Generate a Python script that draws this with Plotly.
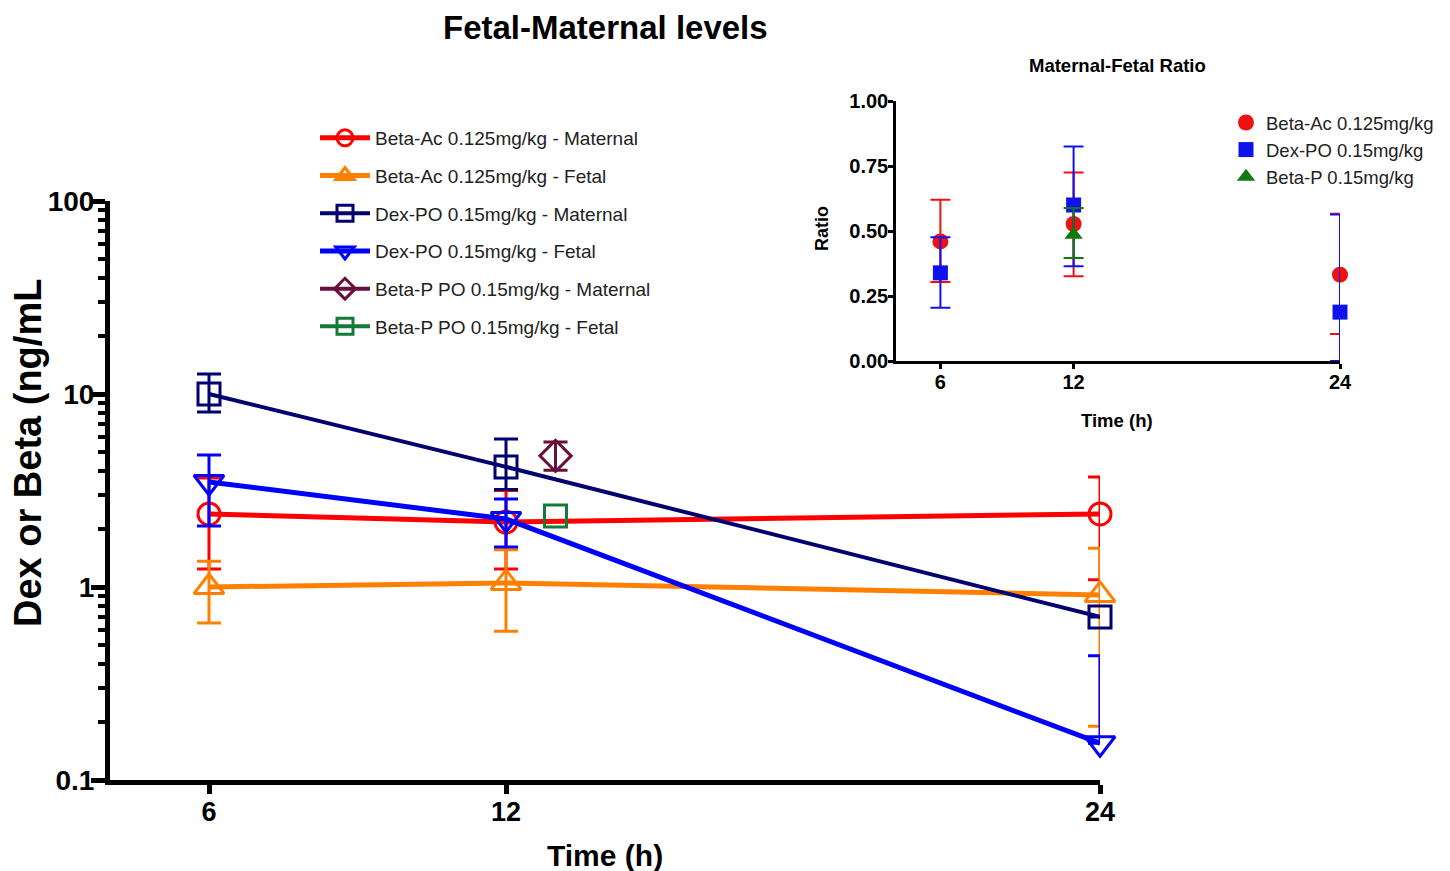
import plotly.graph_objects as go

# ---------------- Main chart data ----------------
time_h = [6, 12, 24]
beta_p_time = [13]

beta_ac_mat = [2.39, 2.17, 2.39]
beta_ac_mat_hi = [3.67, 3.16, 3.72]
beta_ac_mat_lo = [1.24, 1.24, 1.09]

beta_ac_fet = [1.00, 1.05, 0.91]
beta_ac_fet_hi = [1.36, 1.56, 1.59]
beta_ac_fet_lo = [0.65, 0.59, 0.19]

dex_mat = [10.0, 4.19, 0.70]
dex_mat_hi = [12.7, 5.85, 0.70]
dex_mat_lo = [8.07, 3.20, 0.70]

dex_fet = [3.50, 2.25, 0.155]
dex_fet_hi = [4.83, 2.86, 0.44]
dex_fet_lo = [2.07, 1.61, 0.155]

betap_mat = [4.78]
betap_mat_hi = [5.64]
betap_mat_lo = [4.03]

betap_fet = [2.33]

# ---------------- Inset data ----------------
ratio_time = [6, 12, 24]
ratio_beta_ac = [0.46, 0.527, 0.332]
ratio_beta_ac_hi = [0.62, 0.725, 0.566]
ratio_beta_ac_lo = [0.304, 0.326, 0.104]
ratio_dex = [0.339, 0.60, 0.188]
ratio_dex_hi = [0.476, 0.825, 0.563]
ratio_dex_lo = [0.205, 0.364, 0.0]
ratio_betap_time = [12]
ratio_betap = [0.486]
ratio_betap_hi = [0.588]
ratio_betap_lo = [0.396]

FONT = "Arial, Liberation Sans, sans-serif"

# page offset (body margin) compensation
OFF = 8
W = 1450 - OFF
H = 871 - OFF

def px(p):
    return (p - OFF) / W

def py(p):
    return 1 - (p - OFF) / H

def err(vals, hi, lo, color, thick=3, width=12):
    return dict(type="data", symmetric=False,
                array=[h - v for h, v in zip(hi, vals)],
                arrayminus=[v - l for v, l in zip(vals, lo)],
                color=color, thickness=thick, width=width)

fig = go.Figure()

main_series = [
    ("Beta-Ac 0.125mg/kg - Maternal", time_h, beta_ac_mat, beta_ac_mat_hi, beta_ac_mat_lo, "#ff0000", "circle-open", 22, 5),
    ("Beta-Ac 0.125mg/kg - Fetal", time_h, beta_ac_fet, beta_ac_fet_hi, beta_ac_fet_lo, "#ff8000", "triangle-up-open", 26, 5),
    ("Dex-PO 0.15mg/kg - Maternal", time_h, dex_mat, dex_mat_hi, dex_mat_lo, "#000070", "square-open", 22, 4),
    ("Dex-PO 0.15mg/kg - Fetal", time_h, dex_fet, dex_fet_hi, dex_fet_lo, "#0000ff", "triangle-down-open", 26, 5),
    ("Beta-P PO 0.15mg/kg - Maternal", beta_p_time, betap_mat, betap_mat_hi, betap_mat_lo, "#6a0f3c", "diamond-open", 24, 4),
]
for i, (name, xs, ys, hi, lo, col, sym, sz, lw) in enumerate(main_series):
    fig.add_trace(go.Scatter(
        x=xs, y=ys, name=name, mode="lines+markers",
        line=dict(color=col, width=lw),
        marker=dict(symbol=sym, size=sz, color=col, line=dict(width=3, color=col)),
        error_y=err(ys, hi, lo, col),
        cliponaxis=False, legend="legend", legendgroup="g%d" % i,
        xaxis="x", yaxis="y"))

fig.add_trace(go.Scatter(
    x=beta_p_time, y=betap_fet, name="Beta-P PO 0.15mg/kg - Fetal", mode="lines+markers",
    line=dict(color="#137a38", width=4),
    marker=dict(symbol="square-open", size=22, color="#137a38", line=dict(width=3, color="#137a38")),
    cliponaxis=False, legend="legend", legendgroup="g5",
    xaxis="x", yaxis="y"))

# Inset traces
inset_series = [
    ("Beta-Ac 0.125mg/kg", ratio_time, ratio_beta_ac, ratio_beta_ac_hi, ratio_beta_ac_lo, "#ee1111", "circle", 16),
    ("Dex-PO 0.15mg/kg", ratio_time, ratio_dex, ratio_dex_hi, ratio_dex_lo, "#1111ee", "square", 15),
    ("Beta-P 0.15mg/kg", ratio_betap_time, ratio_betap, ratio_betap_hi, ratio_betap_lo, "#107a10", "triangle-up", 16),
]
for name, xs, ys, hi, lo, col, sym, sz in inset_series:
    fig.add_trace(go.Scatter(
        x=xs, y=ys, name=name, mode="markers",
        marker=dict(symbol=sym, size=sz, color=col),
        error_y=err(ys, hi, lo, col, thick=2, width=10),
        cliponaxis=False, legend="legend2",
        xaxis="x2", yaxis="y2"))

fig.update_layout(
    width=W, height=H,
    margin=dict(l=0, r=0, t=0, b=0, autoexpand=False),
    paper_bgcolor="white", plot_bgcolor="rgba(0,0,0,0)",
    font=dict(family=FONT, color="black"),
    xaxis=dict(domain=[px(110), px(1100)], range=[4, 24], anchor="y",
               tickvals=time_h, ticks="outside", ticklen=9, tickwidth=5, tickcolor="black",
               ticklabelstandoff=-5,
               showline=True, linewidth=5, linecolor="black", showgrid=False, zeroline=False,
               tickfont=dict(size=27, weight="bold", family=FONT)),
    yaxis=dict(domain=[py(780), py(201)], type="log", range=[-1, 2], anchor="x",
               tickvals=[0.1, 1, 10, 100], ticktext=["0.1", "1", "10", "100"],
               ticks="outside", ticklen=14, tickwidth=5, tickcolor="black",
               ticklabelstandoff=-9,
               minor=dict(ticks="outside", ticklen=7, tickwidth=4, tickcolor="black", dtick="D1"),
               showline=True, linewidth=5, linecolor="black", showgrid=False, zeroline=False,
               tickfont=dict(size=28, weight="bold", family=FONT)),
    xaxis2=dict(domain=[px(896), px(1340)], range=[4, 24], anchor="y2",
                tickvals=ratio_time, ticks="outside", ticklen=5, tickwidth=2.5, tickcolor="black",
                ticklabelstandoff=-4,
                showline=True, linewidth=2.5, linecolor="black", showgrid=False, zeroline=False,
                tickfont=dict(size=20, weight="bold", family=FONT)),
    yaxis2=dict(domain=[py(361), py(101)], range=[0, 1], anchor="x2",
                tickvals=[0, 0.25, 0.5, 0.75, 1.0], tickformat=".2f",
                ticks="outside", ticklen=5, tickwidth=2.5, tickcolor="black",
                ticklabelstandoff=-4,
                showline=True, linewidth=2.5, linecolor="black", showgrid=False, zeroline=False,
                tickfont=dict(size=20, weight="bold", family=FONT)),
    legend=dict(x=px(315), y=py(119), xanchor="left", yanchor="top",
                font=dict(size=19, family=FONT, color="#222222"),
                bgcolor="rgba(0,0,0,0)", traceorder="grouped", tracegroupgap=10,
                itemsizing="trace", itemwidth=50),
    legend2=dict(x=px(1226), y=py(104), xanchor="left", yanchor="top",
                 font=dict(size=18.5, family=FONT, color="#222222"),
                 bgcolor="rgba(0,0,0,0)", tracegroupgap=0, itemsizing="trace"),
    showlegend=True,
    annotations=[
        dict(text="<b>Fetal-Maternal levels</b>", x=px(605), y=py(28), xref="paper", yref="paper",
             showarrow=False, font=dict(size=33, family=FONT), xanchor="center", yanchor="middle"),
        dict(text="<b>Time (h)</b>", x=px(605), y=py(855), xref="paper", yref="paper",
             showarrow=False, font=dict(size=30, family=FONT), xanchor="center", yanchor="middle"),
        dict(text="<b>Dex or Beta (ng/mL</b>", x=px(28), y=py(453), xref="paper", yref="paper",
             showarrow=False, font=dict(size=38, family=FONT), textangle=-90,
             xanchor="center", yanchor="middle"),
        dict(text="<b>Maternal-Fetal Ratio</b>", x=px(1117), y=py(66), xref="paper", yref="paper",
             showarrow=False, font=dict(size=18.5, family=FONT), xanchor="center", yanchor="middle"),
        dict(text="<b>Time (h)</b>", x=px(1117), y=py(420), xref="paper", yref="paper",
             showarrow=False, font=dict(size=18.5, family=FONT), xanchor="center", yanchor="middle"),
        dict(text="<b>Ratio</b>", x=px(822), y=py(229), xref="paper", yref="paper",
             showarrow=False, font=dict(size=18, family=FONT), textangle=-90,
             xanchor="center", yanchor="middle"),
    ],
)

fig.write_html("out.html")
